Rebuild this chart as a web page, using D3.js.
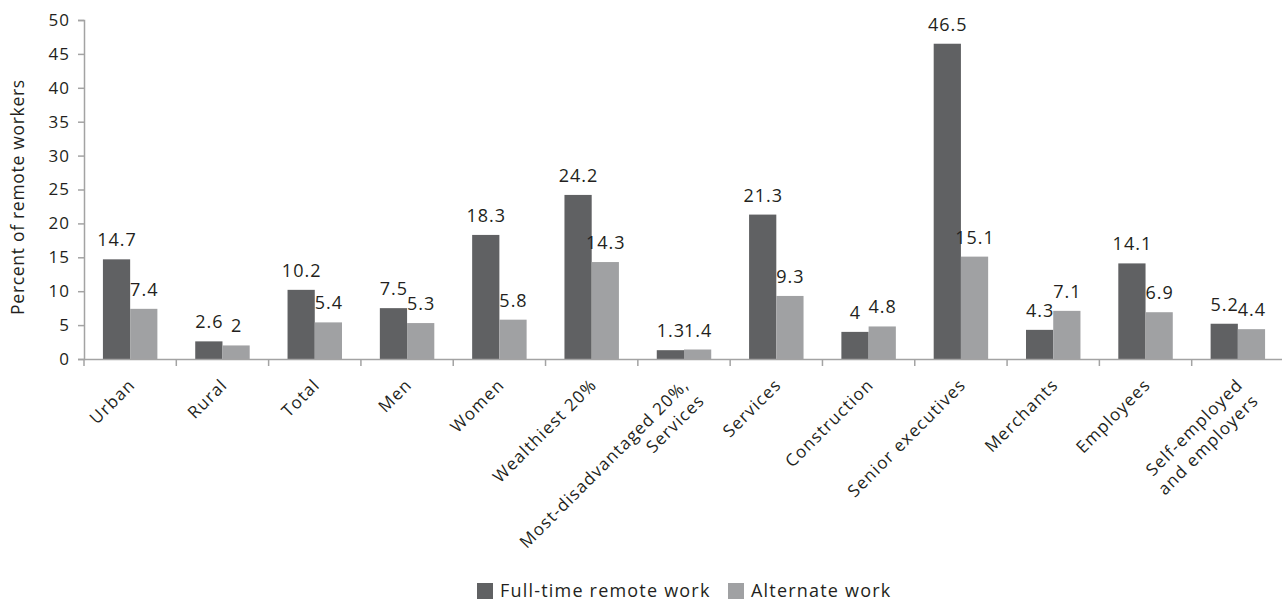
<!DOCTYPE html>
<html><head><meta charset="utf-8">
<script src="https://cdn.jsdelivr.net/npm/d3@7"></script>
<style>body{margin:0;background:#fff}text{font-family:"Open Sans",sans-serif;fill:#231f20}</style>
</head><body><svg id="c" width="1282" height="602"></svg>
<script>
const categories = [["Urban"],["Rural"],["Total"],["Men"],["Women"],["Wealthiest 20%"],["Most-disadvantaged 20%,","Services"],["Services"],["Construction"],["Senior executives"],["Merchants"],["Employees"],["Self-employed","and employers"]];
const fullTime = [14.7,2.6,10.2,7.5,18.3,24.2,1.3,21.3,4,46.5,4.3,14.1,5.2];
const alternate = [7.4,2,5.4,5.3,5.8,14.3,1.4,9.3,4.8,15.1,7.1,6.9,4.4];
const seriesNames = ["Full-time remote work","Alternate work"];
const colors = ["#606163","#a0a1a3"];
const yTicks = [0,5,10,15,20,25,30,35,40,45,50];

const svg = d3.select("#c");
const m = {l:84, t:20, r:1284, b:359};
const x = d3.scaleBand().domain(d3.range(categories.length)).range([m.l, m.r]);
const y = d3.scaleLinear().domain([0,50]).range([m.b, m.t]);
const bw = x.bandwidth()*0.295;
const axisColor = "#a3a3a3";

// y axis
const ya = svg.append("g").attr("transform",`translate(${m.l},0)`)
  .call(d3.axisLeft(y).tickValues(yTicks).tickSize(6).tickPadding(8));
ya.selectAll("path,line").attr("stroke",axisColor).attr("stroke-width",1.5);
ya.selectAll("text").attr("font-size",17).style("font-family","Open Sans").style("letter-spacing","1px").attr("fill","#231f20");

// bars
const series = [fullTime, alternate];
series.forEach((vals,si)=>{
  const g = svg.append("g");
  g.selectAll("rect").data(vals).join("rect")
    .attr("x",(d,i)=>x(i)+x.bandwidth()/2 - bw + si*bw)
    .attr("y",d=>y(d)).attr("width",bw).attr("height",d=>y(0)-y(d))
    .attr("fill",colors[si]);
  g.selectAll("text").data(vals).join("text")
    .attr("x",(d,i)=>x(i)+x.bandwidth()/2 - bw/2 + si*bw + 0.5)
    .attr("y",d=>y(d)-13).attr("text-anchor","middle").attr("font-size",18)
    .style("letter-spacing","1px")
    .text(d=>d);
});

// x axis
const xa = svg.append("g").attr("transform",`translate(0,${m.b})`)
  .call(d3.axisBottom(x).tickSize(0).tickFormat(""));
xa.select("path").attr("stroke",axisColor).attr("stroke-width",1.5);
xa.selectAll(".tick").remove();
const edges = d3.range(categories.length).map(i=>x(i));
xa.selectAll("line.edge").data(edges).join("line").attr("class","edge")
  .attr("x1",d=>d).attr("x2",d=>d).attr("y1",0).attr("y2",7)
  .attr("stroke",axisColor).attr("stroke-width",1.5);

// x labels
categories.forEach((lines,i)=>{
  const cx = x(i)+x.bandwidth()/2;
  const t = svg.append("text").attr("transform",`translate(${cx-3},${m.b+18}) rotate(-45)`)
    .attr("text-anchor","end").attr("font-size",17).style("letter-spacing","1.2px");
  lines.forEach((ln,j)=>{
    t.append("tspan").attr("x",0).attr("dy", j===0? "0.75em":"1.3em").text(ln);
  });
});

// y label
svg.append("text").attr("transform","translate(24,197) rotate(-90)")
  .attr("text-anchor","middle").attr("font-size",17.5).style("letter-spacing","0.7px").text("Percent of remote workers");

// legend
const lg = svg.append("g").attr("transform","translate(477,583)");
const lx = [0, 251];
seriesNames.forEach((n,i)=>{
  lg.append("rect").attr("x",lx[i]).attr("y",0).attr("width",16).attr("height",16).attr("fill",colors[i]);
  lg.append("text").attr("x",lx[i]+23).attr("y",8).attr("dy","0.35em").attr("font-size",18).style("letter-spacing","1.2px").text(n);
});
</script></body></html>
